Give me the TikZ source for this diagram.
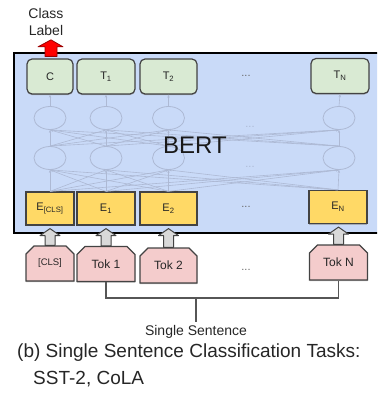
\documentclass[tikz,border=0pt]{standalone}
\usepackage{fontspec}
\setmainfont{Liberation Sans}
\usetikzlibrary{shapes.geometric,shapes.misc,calc,arrows.meta,shadows}
\definecolor{bertbleu}{HTML}{C9DAF8}
\definecolor{vert}{HTML}{D9EAD3}
\definecolor{jaune}{HTML}{FFD966}
\definecolor{rose}{HTML}{F4CCCC}
\definecolor{trait}{HTML}{434343}
\definecolor{pale}{HTML}{ADB9D4}
\definecolor{gris}{HTML}{D9D9D9}
\definecolor{rouge}{HTML}{FF0000}
\definecolor{texte}{HTML}{262626}

% fleche grise epaisse du jeton vers son embedding
\newcommand{\blocfleche}[2]{%
\draw[fill=gris,draw=trait,line width=1pt,line join=round] let \p1=(#1.north), \p2=(#2.south) in
 (\x1-5pt,\y1) -- (\x1-5pt,\y2-10pt) -- (\x1-10pt,\y2-10pt) -- (\x1,\y2-3pt)
 -- (\x1+10pt,\y2-10pt) -- (\x1+5pt,\y2-10pt) -- (\x1+5pt,\y1) -- cycle;}

\begin{document}
\begin{tikzpicture}[x=1pt,y=-1pt,
 ombre/.style={drop shadow={shadow xshift=0pt,shadow yshift=-1.2pt,fill=black!45,opacity=.6}},
 sortie/.style={draw=trait,fill=vert,rounded corners=5pt,line width=1.2pt,minimum height=35pt,inner sep=0pt,text=texte,font=\fontsize{11}{12}\selectfont,ombre},
 embed/.style={draw=trait,fill=jaune,line width=1.2pt,minimum height=33pt,inner sep=0pt,text=texte,font=\fontsize{11}{12}\selectfont,ombre},
 jeton/.style={chamfered rectangle,chamfered rectangle corners={north west,north east},chamfered rectangle xsep=5pt,chamfered rectangle angle=45,draw=trait,fill=rose,line width=1.2pt,minimum height=35pt,inner sep=0pt,text=texte,font=\fontsize{12}{13}\selectfont,ombre},
 neurone/.style={ellipse,draw=pale,line width=.8pt,minimum width=32pt,minimum height=23pt,inner sep=0pt},
 lien/.style={draw=pale,line width=.6pt,-{Stealth[length=3pt]}},
 points/.style={text=texte!70,font=\fontsize{11}{12}\selectfont},
 accolade/.style={draw=trait!90,line width=1.3pt}]
\clip (0,0) rectangle (377,401); % taille de l'image

\draw[fill=bertbleu,draw=black,line width=1.5pt] (14,53) rectangle (395,233); % le bloc BERT

% les couches cachees
\foreach \i/\x in {0/50,1/106,2/168.5,3/339} {
 \node[neurone] (ha\i) at (\x,158) {};
 \node[neurone] (hb\i) at (\x,118) {};
}

% sorties, embeddings et jetons
\node[sortie,minimum width=46pt] (t0) at (50,76.5) {C};
\node[sortie,minimum width=58pt] (t1) at (106,76.5) {T\textsubscript{1}};
\node[sortie,minimum width=57pt] (t2) at (168.5,76.5) {T\textsubscript{2}};
\node[sortie,minimum width=58pt] (t3) at (340,76) {T\textsubscript{N}};
\node[embed,minimum width=48pt] (e0) at (50,208.5) {E\textsubscript{[CLS]}};
\node[embed,minimum width=58pt] (e1) at (106,208.5) {E\textsubscript{1}};
\node[embed,minimum width=57pt] (e2) at (168.5,208.5) {E\textsubscript{2}};
\node[embed,minimum width=58pt] (e3) at (338,207) {E\textsubscript{N}};
\node[jeton,minimum width=48pt,font=\fontsize{9.5}{11}\selectfont] (tok0) at (50,263.5) {[CLS]};
\node[jeton,minimum width=58pt] (tok1) at (106,264) {Tok 1};
\node[jeton,minimum width=57pt] (tok2) at (168.5,265.5) {Tok 2};
\node[jeton,minimum width=58pt] (tok3) at (338.5,262.5) {Tok N};

% liens entre couches
\foreach \i in {0,1,2,3} {
 \foreach \j in {0,1,2,3} {
  \draw[lien] (e\j.north) -- (ha\i.south);
  \draw[lien] (ha\j.north) -- (hb\i.south);
 }
 \draw[lien] (hb\i.north) -- (t\i.south);
}
\node[points,text=pale] (pa) at (250,127) {...};
\node[points,text=pale] (pb) at (250,167) {...};

\node[text=black!90,font=\fontsize{24}{26}\selectfont] (bert) at (195,145) {BERT};

\node[points] (pt) at (246,76) {...};
\node[points] (pe) at (246,207) {...};
\node[points] (pk) at (246,270) {...};

\foreach \i in {0,1,2,3} {\blocfleche{tok\i}{e\i}}

% la fleche rouge vers l'etiquette
\node[align=center,inner sep=1pt,text=texte,font=\fontsize{14}{17}\selectfont] (classe) at (46,22) {Class\\Label};
\draw[fill=rouge,draw=rouge!60!black,line width=.8pt,line join=round] let \p1=(t0.north), \p2=(classe.south) in
 (\x1-5pt,\y1+2pt) -- (\x1-5pt,\y2-10pt) -- (\x1-12pt,\y2-10pt) -- (\x1+1pt,\y2-3pt)
 -- (\x1+13pt,\y2-10pt) -- (\x1+7pt,\y2-10pt) -- (\x1+7pt,\y1+2pt) -- cycle;

% la phrase
\coordinate (milieu) at (196,298);
\node[text=texte,font=\fontsize{14}{16}\selectfont] (phrase) at (196,332) {Single Sentence};
\draw[accolade] (tok1.south) -- ++(0,16) -| (tok3.south);
\draw[accolade] (milieu) -- (phrase.north);

% legende
\node[anchor=west,inner sep=0pt,text=texte,font=\fontsize{19}{21}\selectfont] (leg1) at (17,353) {(b) Single Sentence Classification Tasks:};
\node[anchor=west,inner sep=0pt,text=texte,font=\fontsize{19}{21}\selectfont] (leg2) at (33,379) {SST-2, CoLA};
\end{tikzpicture}
\end{document}
